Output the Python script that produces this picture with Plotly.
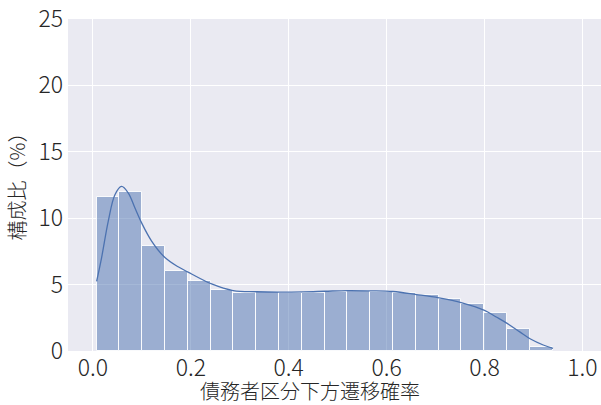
import numpy as np
import plotly.graph_objects as go

# Histogram of downgrade probabilities (percent share per bin)
bin_start = 0.0075
bin_end = 0.939
shares = [11.57, 11.96, 7.91, 5.99, 5.30, 4.63, 4.38, 4.43, 4.40, 4.38,
          4.45, 4.50, 4.48, 4.40, 4.23, 3.93, 3.51, 2.86, 1.64, 0.30]

# Kernel density estimate, sampled along the x axis
kde_x = [0.0075, 0.0177, 0.0313, 0.0449, 0.0585, 0.0722, 0.0858, 0.0994,
         0.1198, 0.147, 0.174, 0.2015, 0.2424, 0.2866, 0.334, 0.382,
         0.43, 0.474, 0.52, 0.566, 0.613, 0.661, 0.707, 0.754, 0.80,
         0.824, 0.847, 0.872, 0.894, 0.92, 0.940]
kde_y = [5.25, 7.04, 9.78, 11.77, 12.39, 11.89, 10.77, 9.65,
         8.28, 7.04, 6.34, 5.80, 5.05, 4.55, 4.46, 4.43,
         4.45, 4.50, 4.55, 4.53, 4.48, 4.25, 4.00, 3.63, 3.06,
         2.56, 2.06, 1.44, 0.90, 0.45, 0.20]

x_ticks = [0.0, 0.2, 0.4, 0.6, 0.8, 1.0]
x_tick_text = ["0.0", "0.2", "0.4", "0.6", "0.8", "1.0"]
y_ticks = [0, 5, 10, 15, 20, 25]
x_title = "債務者区分下方遷移確率"
y_title = "構成比（%）"

edges = np.linspace(bin_start, bin_end, len(shares) + 1)
centers = (edges[:-1] + edges[1:]) / 2
width = edges[1] - edges[0]

FONT = "Noto Sans CJK JP"
TXT = "#262626"
tick_font = dict(family=FONT, size=23, color=TXT, weight=300)
title_font = dict(family=FONT, size=20, color=TXT, weight=300)

fig = go.Figure()
fig.add_trace(go.Bar(
    x=centers, y=shares, width=width,
    marker=dict(color="rgba(76,114,176,0.5)",
                line=dict(color="rgba(255,255,255,0.9)", width=1)),
    hoverinfo="skip", showlegend=False,
))
fig.add_trace(go.Scatter(
    x=kde_x, y=kde_y, mode="lines", line_shape="spline",
    line=dict(color="#4C72B0", width=1.3),
    hoverinfo="skip", showlegend=False,
))

W, H = 601, 405
ML, MR, MT, MB = 68, 0, 16, 54
pw, ph = W - ML - MR, H - MT - MB

fig.update_layout(
    width=W, height=H,
    margin=dict(l=ML, r=MR, t=MT, b=MB),
    paper_bgcolor="white", plot_bgcolor="#EAEAF2",
    bargap=0,
    font=dict(family=FONT, color=TXT),
    xaxis=dict(
        range=[-0.051, 1.038], tickvals=x_ticks, ticktext=x_tick_text,
        showgrid=True, gridcolor="white", gridwidth=1, zeroline=False,
        tickfont=tick_font, ticks="", ticklabelstandoff=1,
    ),
    yaxis=dict(
        range=[0, 25.0001], tickvals=y_ticks,
        showgrid=True, gridcolor="white", gridwidth=1, zeroline=False,
        tickfont=tick_font, ticks="", ticklabelstandoff=4,
        ticklabeloverflow="allow",
    ),
)

# Axis titles placed as paper annotations
fig.add_annotation(
    text=x_title, xref="paper", yref="paper",
    x=(310 - ML) / pw, y=-(391 - MT - ph) / ph,
    xanchor="center", yanchor="middle", showarrow=False, font=title_font,
)
fig.add_annotation(
    text=y_title, xref="paper", yref="paper", textangle=-90,
    x=(17 - ML) / pw, y=(MT + ph - 180) / ph,
    xanchor="center", yanchor="middle", showarrow=False, font=title_font,
)

fig.write_html("out.html")
